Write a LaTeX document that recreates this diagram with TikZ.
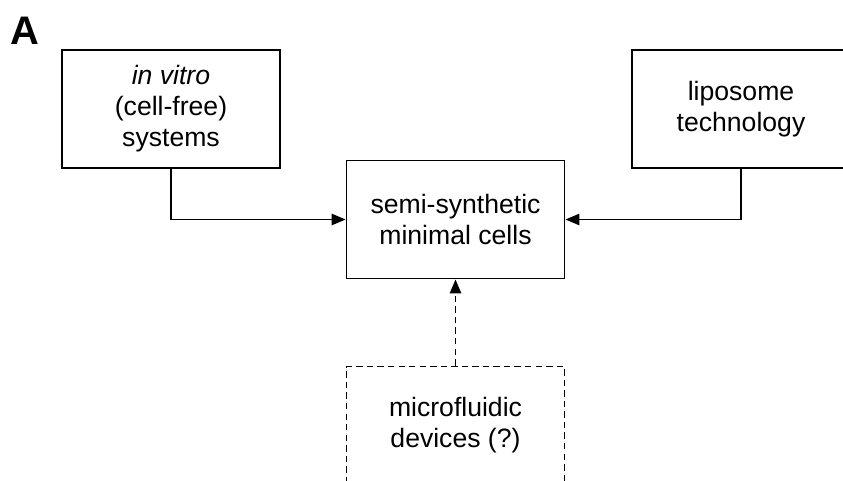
\documentclass[tikz,border=0pt]{standalone}
\usepackage{fontspec}
\setmainfont{Liberation Sans}
\usetikzlibrary{arrows.meta}

\tikzset{
  boxnode/.style={draw, line width=1.6pt, minimum width=6.54cm, minimum height=3.54cm,
    inner sep=0pt, align=center, font=\fontsize{22.7}{26.5}\selectfont},
  linkarrow/.style={line width=1.6pt, -{Triangle[length=4.2mm,width=3.4mm]}},
  guess/.style={dash pattern=on 5.5pt off 3.5pt}
}

\begin{document}
\begin{tikzpicture}[x=0.03cm,y=-0.03cm]
        \useasboundingbox (0,0) rectangle (843,481);

        % panel letter
        \node (panel) at (25,31) {\fontsize{34}{34}\selectfont\bfseries A};

        % sources
        \node[boxnode] (vitro) at (171,109) {\textit{in vitro}\\(cell-free)\\systems};
        \node[boxnode] (lipo) at (741,109) {liposome\\technology};

        % target
        \node[boxnode] (cells) at (455.5,219.5) {semi-synthetic\\minimal cells};

        % uncertain source
        \node[boxnode, guess] (micro) at (455.5,425.5) {microfluidic\\devices (?)};

        % links
        \draw[linkarrow] (vitro.south) |- (cells.west);
        \draw[linkarrow] (lipo.south) |- (cells.east);
        \draw[linkarrow, guess] (micro.north) -- (cells.south);
    \end{tikzpicture}
\end{document}
